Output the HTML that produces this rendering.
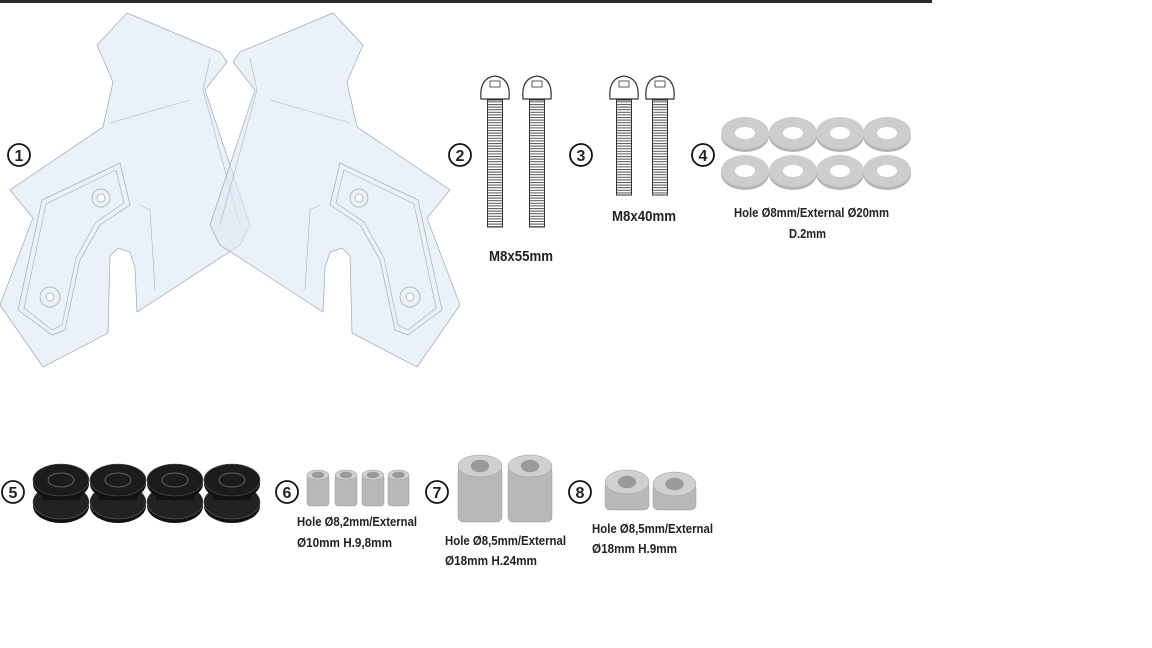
<!DOCTYPE html>
<html><head><meta charset="utf-8"><style>
body{margin:0;background:#fff;width:1152px;height:648px;overflow:hidden}
svg{display:block}
text{font-family:"Liberation Sans Narrow","Liberation Sans",sans-serif;font-weight:bold;fill:#222}
</style></head><body>
<svg width="1152" height="648" viewBox="0 0 1152 648" xmlns="http://www.w3.org/2000/svg">
<defs>
<pattern id="thr" width="4" height="2.6" patternUnits="userSpaceOnUse"><rect width="4" height="2.6" fill="#fff"/><rect width="4" height="1" fill="#555"/></pattern>
<g id="panel">
<path d="M127,13 L220,52 L227,62 L205,90 L250,225 L240,245 L137,312 L135,268 L130,252 L118,248 L110,256 L108,333 L43,367 L0,305 L33,218 L10,190 L103,127 L113,82 L97,45 Z" fill="#dde8f4" fill-opacity="0.6" stroke="#9aa6b4" stroke-width="0.7"/>
<path d="M110,123 L190,100" stroke="#aab4c0" stroke-width="0.6" fill="none"/>
<path d="M210,58 L203,90 L240,225" stroke="#aab4c0" stroke-width="0.6" fill="none"/>
<path d="M120,163 L130,205 L100,225 L80,260 L65,330 L52,335 L18,310 L42,200 Z" fill="none" stroke="#a0aab8" stroke-width="0.7"/>
<path d="M116,170 L124,203 L96,222 L76,258 L62,325 L52,330 L24,308 L46,204 Z" fill="none" stroke="#a0aab8" stroke-width="0.6"/>
<path d="M140,205 L150,210 L155,290" fill="none" stroke="#aab4c0" stroke-width="0.6"/>
<circle cx="101" cy="198" r="9" fill="none" stroke="#9aa6b4" stroke-width="0.7"/>
<circle cx="101" cy="198" r="4" fill="#fff" stroke="#9aa6b4" stroke-width="0.7"/>
<circle cx="50" cy="297" r="10" fill="none" stroke="#9aa6b4" stroke-width="0.7"/>
<circle cx="50" cy="297" r="4" fill="#fff" stroke="#9aa6b4" stroke-width="0.7"/>
</g>
<g id="num"><circle r="11" fill="#fff" stroke="#111" stroke-width="1.8"/></g>
<g id="screwL">
<rect x="-7.5" y="100" width="15" height="127" fill="url(#thr)" stroke="#333" stroke-width="1"/>
<path d="M-14,99 Q-16,78 0,76 Q16,78 14,99 Z" fill="#fff" stroke="#333" stroke-width="1.2"/>
<rect x="-5" y="81" width="10" height="6" fill="none" stroke="#333" stroke-width="0.8"/>
</g>
<g id="screwS">
<rect x="-7.5" y="100" width="15" height="95" fill="url(#thr)" stroke="#333" stroke-width="1"/>
<path d="M-14,99 Q-16,78 0,76 Q16,78 14,99 Z" fill="#fff" stroke="#333" stroke-width="1.2"/>
<rect x="-5" y="81" width="10" height="6" fill="none" stroke="#333" stroke-width="0.8"/>
</g>
<g id="washer">
<ellipse cx="0" cy="3" rx="24" ry="16" fill="#b5b5b5"/>
<ellipse cx="0" cy="0" rx="24" ry="16" fill="#cdcdcd"/>
<ellipse cx="0" cy="0" rx="10" ry="6" fill="#fff"/>
</g>
<g id="grom">
<ellipse cx="0" cy="14" rx="28" ry="17" fill="#111"/>
<ellipse cx="0" cy="10" rx="28" ry="17" fill="#222" stroke="#666" stroke-width="0.6"/>
<rect x="-19" y="-4" width="38" height="12" fill="#111"/>
<ellipse cx="0" cy="-8" rx="28" ry="16" fill="#111"/>
<ellipse cx="0" cy="-12" rx="28" ry="16" fill="#1c1c1c" stroke="#555" stroke-width="0.6"/>
<ellipse cx="0" cy="-12" rx="13" ry="7" fill="none" stroke="#777" stroke-width="0.8"/>
</g>
</defs>
<rect x="0" y="0" width="932" height="3" fill="#2a2a2a"/>
<use href="#panel"/>
<use href="#panel" transform="translate(460,0) scale(-1,1)"/>

<g font-size="16">
<use href="#num" x="19" y="155"/><text x="19" y="161" text-anchor="middle">1</text>
<use href="#num" x="460" y="155"/><text x="460" y="161" text-anchor="middle">2</text>
<use href="#num" x="581" y="155"/><text x="581" y="161" text-anchor="middle">3</text>
<use href="#num" x="703" y="155"/><text x="703" y="161" text-anchor="middle">4</text>
<use href="#num" x="13" y="492"/><text x="13" y="498" text-anchor="middle">5</text>
<use href="#num" x="287" y="492"/><text x="287" y="498" text-anchor="middle">6</text>
<use href="#num" x="437" y="492"/><text x="437" y="498" text-anchor="middle">7</text>
<use href="#num" x="580" y="492"/><text x="580" y="498" text-anchor="middle">8</text>
</g>

<use href="#screwL" x="495"/><use href="#screwL" x="537"/>
<use href="#screwS" x="624"/><use href="#screwS" x="660"/>
<text x="489" y="261" font-size="15" textLength="64" lengthAdjust="spacingAndGlyphs">M8x55mm</text>
<text x="612" y="221" font-size="15" textLength="64" lengthAdjust="spacingAndGlyphs">M8x40mm</text>

<use href="#washer" x="745" y="133"/><use href="#washer" x="793" y="133"/><use href="#washer" x="840" y="133"/><use href="#washer" x="887" y="133"/>
<use href="#washer" x="745" y="171"/><use href="#washer" x="793" y="171"/><use href="#washer" x="840" y="171"/><use href="#washer" x="887" y="171"/>
<text x="734" y="217" font-size="13" textLength="155" lengthAdjust="spacingAndGlyphs">Hole Ø8mm/External Ø20mm</text>
<text x="789" y="238" font-size="13" textLength="37" lengthAdjust="spacingAndGlyphs">D.2mm</text>

<use href="#grom" x="61" y="492"/><use href="#grom" x="118" y="492"/><use href="#grom" x="175" y="492"/><use href="#grom" x="232" y="492"/>

<g fill="#b8b8b8" stroke="#999" stroke-width="0.5">
<rect x="307" y="475" width="22" height="31" rx="3"/><ellipse cx="318" cy="475" rx="11" ry="5" fill="#cfcfcf"/><ellipse cx="318" cy="475" rx="6" ry="3" fill="#999"/>
<rect x="335" y="475" width="22" height="31" rx="3"/><ellipse cx="346" cy="475" rx="11" ry="5" fill="#cfcfcf"/><ellipse cx="346" cy="475" rx="6" ry="3" fill="#999"/>
<rect x="362" y="475" width="22" height="31" rx="3"/><ellipse cx="373" cy="475" rx="11" ry="5" fill="#cfcfcf"/><ellipse cx="373" cy="475" rx="6" ry="3" fill="#999"/>
<rect x="388" y="475" width="21" height="31" rx="3"/><ellipse cx="398.5" cy="475" rx="10.5" ry="5" fill="#cfcfcf"/><ellipse cx="398.5" cy="475" rx="6" ry="3" fill="#999"/>

<rect x="458" y="466" width="44" height="56" rx="5"/><ellipse cx="480" cy="466" rx="22" ry="11" fill="#d0d0d0"/><ellipse cx="480" cy="466" rx="9" ry="6" fill="#9a9a9a"/>
<rect x="508" y="466" width="44" height="56" rx="5"/><ellipse cx="530" cy="466" rx="22" ry="11" fill="#d0d0d0"/><ellipse cx="530" cy="466" rx="9" ry="6" fill="#9a9a9a"/>

<rect x="605" y="482" width="44" height="28" rx="5"/><ellipse cx="627" cy="482" rx="22" ry="12" fill="#d0d0d0"/><ellipse cx="627" cy="482" rx="9" ry="6" fill="#9a9a9a"/>
<rect x="653" y="484" width="43" height="26" rx="5"/><ellipse cx="674.5" cy="484" rx="21.5" ry="12" fill="#d0d0d0"/><ellipse cx="674.5" cy="484" rx="9" ry="6" fill="#9a9a9a"/>
</g>

<g font-size="13">
<text x="297" y="526" textLength="120" lengthAdjust="spacingAndGlyphs">Hole Ø8,2mm/External</text>
<text x="297" y="547" textLength="95" lengthAdjust="spacingAndGlyphs">Ø10mm H.9,8mm</text>
<text x="445" y="545" textLength="121" lengthAdjust="spacingAndGlyphs">Hole Ø8,5mm/External</text>
<text x="445" y="565" textLength="92" lengthAdjust="spacingAndGlyphs">Ø18mm H.24mm</text>
<text x="592" y="533" textLength="121" lengthAdjust="spacingAndGlyphs">Hole Ø8,5mm/External</text>
<text x="592" y="553" textLength="85" lengthAdjust="spacingAndGlyphs">Ø18mm H.9mm</text>
</g>
</svg>
</body></html>
